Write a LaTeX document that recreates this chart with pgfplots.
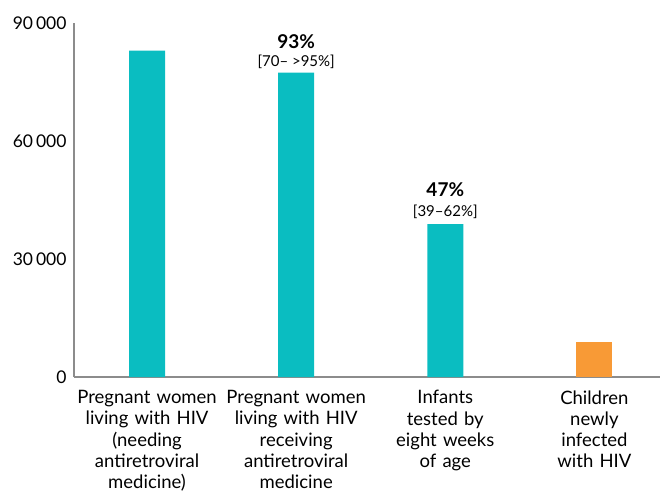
\documentclass[border=0pt]{standalone}
\usepackage{pgfplots}
\pgfplotsset{compat=1.18}
\usepackage{fontspec}
\setmainfont{Lato}
\definecolor{hivteal}{HTML}{0ABDC1}
\definecolor{hivorange}{HTML}{F89A36}
\definecolor{axgrey}{HTML}{8C8C8C}

\begin{document}
\begin{tikzpicture}
\begin{axis}[
  scale only axis, width=586pt, height=354pt,
  xmin=-0.49, xmax=3.44, ymin=0, ymax=90000,
  axis x line*=bottom, axis y line*=left,
  axis line style={axgrey, line width=1.1pt},
  major tick length=0pt,
  ytick={0,30000,60000,90000},
  scaled y ticks=false,
  yticklabel style={font=\fontsize{17.5}{20}\selectfont, xshift=-4pt,
    /pgf/number format/.cd, 1000 sep={\,}, assume math mode=true},
  xtick={0,1,2,3},
  xticklabels={
    {Pregnant women\\living with HIV\\(needing\\antiretroviral\\medicine)},
    {Pregnant women\\living with HIV\\receiving\\antiretroviral\\medicine},
    {Infants\\tested by\\eight weeks\\of age},
    {Children\\newly\\infected\\with HIV}},
  xticklabel style={font=\fontsize{18.5}{21.2}\selectfont, align=center,
    text width=146pt, anchor=north, yshift=-10pt},
  ybar, bar width=36pt, bar shift=0pt,
]
\addplot[fill=hivteal, draw=none] coordinates {(0,83000) (1,77400) (2,38900)};
\addplot[fill=hivorange, draw=none] coordinates {(3,8900)};

\node[anchor=base, font=\fontsize{19}{21}\selectfont\bfseries] at (axis cs:1,77400) [yshift=24.5pt] {93\%};
\node[anchor=base, font=\fontsize{15}{17}\selectfont] at (axis cs:1,77400) [yshift=6.5pt] {[70-- >95\%]};
\node[anchor=base, font=\fontsize{19}{21}\selectfont\bfseries] at (axis cs:2,38900) [yshift=27pt] {47\%};
\node[anchor=base, font=\fontsize{15}{17}\selectfont] at (axis cs:2,38900) [yshift=7.5pt] {[39--62\%]};
\end{axis}
\pgfresetboundingbox
\path (current axis.south west) ++(-74pt,-119pt) rectangle ++(660pt,496pt);
\end{tikzpicture}
\end{document}
